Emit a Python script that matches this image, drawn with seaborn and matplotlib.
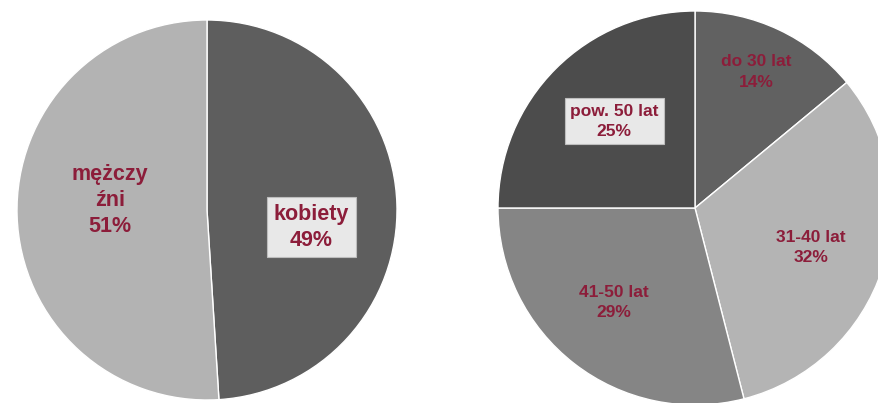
import matplotlib
matplotlib.use("Agg")
import matplotlib.pyplot as plt
import seaborn as sns

# ---- data ----
gender_labels = ["kobiety", "mężczy\nźni"]
gender_values = [49, 51]
age_labels = ["do 30 lat", "31-40 lat", "41-50 lat", "pow. 50 lat"]
age_values = [14, 32, 29, 25]

sns.set_theme(style="white")
plt.rcParams["font.family"] = ["Liberation Sans", "DejaVu Sans"]

gender_colors = ["#5e5e5e", "#b3b3b3"]
age_colors = ["#616161", "#b4b4b4", "#858585", "#4c4c4c"]
label_color = "#8c1d3a"

W, H = 879, 403
fig = plt.figure(figsize=(W / 100, H / 100), dpi=100)
fig.patch.set_facecolor("white")


def make_ax(cx, cy, r):
    ax = fig.add_axes([(cx - r) / W, (H - cy - r) / H, 2 * r / W, 2 * r / H])
    return ax


def finish(ax):
    ax.set_xlim(-1, 1)
    ax.set_ylim(-1, 1)
    ax.set_aspect("equal")
    ax.axis("off")


# left pie
ax1 = make_ax(207, 210, 190)
ax1.pie(gender_values, colors=gender_colors, startangle=90, counterclock=False,
        radius=1, wedgeprops=dict(edgecolor="white", linewidth=1.0, clip_on=False))
finish(ax1)
g_pos = [(0.55, -0.09), (-0.51, 0.05)]
g_box = [True, False]
for lab, val, (x, y), box in zip(gender_labels, gender_values, g_pos, g_box):
    kw = {}
    if box:
        kw["bbox"] = dict(boxstyle="square,pad=0.3", facecolor="#e8e8e8",
                          edgecolor="#bdbdbd", linewidth=0.8)
    ax1.text(x, y, f"{lab}\n{val}%", ha="center", va="center",
             fontsize=15.5, fontweight="bold", color=label_color,
             linespacing=1.32, **kw)

# right pie
ax2 = make_ax(695, 208, 197)
ax2.pie(age_values, colors=age_colors, startangle=90, counterclock=False,
        radius=1, wedgeprops=dict(edgecolor="white", linewidth=1.0, clip_on=False))
finish(ax2)
a_pos = [(0.31, 0.69), (0.59, -0.2), (-0.41, -0.48), (-0.41, 0.44)]
a_box = [False, False, False, True]
for lab, val, (x, y), box in zip(age_labels, age_values, a_pos, a_box):
    kw = {}
    if box:
        kw["bbox"] = dict(boxstyle="square,pad=0.3", facecolor="#e8e8e8",
                          edgecolor="#bdbdbd", linewidth=0.8)
    ax2.text(x, y, f"{lab}\n{val}%", ha="center", va="center",
             fontsize=12.5, fontweight="bold", color=label_color,
             linespacing=1.45, **kw)

fig.savefig("out.png", dpi=100, facecolor="white")
